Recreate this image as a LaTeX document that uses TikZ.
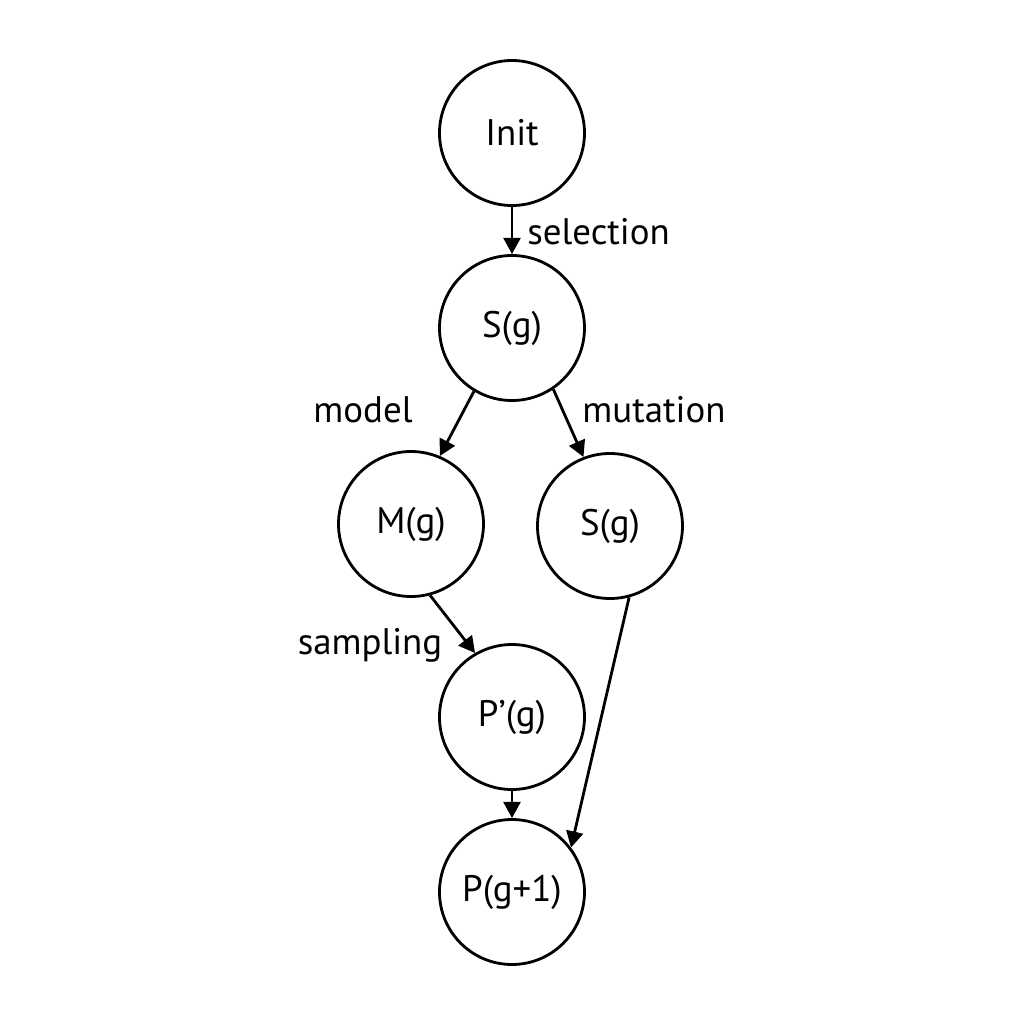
\documentclass[tikz,border=0pt]{standalone}
\usepackage{fontspec}
\setmainfont{PT Sans}
\usetikzlibrary{arrows.meta}

\begin{document}
\begin{tikzpicture}[font=\fontsize{10.5}{12}\selectfont,
  st/.style={draw,circle,line width=0.8pt,minimum size=1.45cm,inner sep=0pt},
  ar/.style={-{Triangle[length=4.6pt,width=4.8pt]},line width=0.8pt}]
\useasboundingbox (-5.12,-5.12) rectangle (5.12,5.12);
\node[st] (init) at (0,3.79) {Init};
\node[st] (sel) at (0,1.84) {S(g)};
\node[st] (mod) at (-1.01,-0.12) {M(g)};
\node[st] (mut) at (0.98,-0.14) {S(g)};
\node[st] (smp) at (0,-2.05) {P’(g)};
\node[st] (nxt) at (0,-3.80) {P(g+1)};
\draw[ar] (init) -- (sel);
\draw[ar] (sel.-121) -- (mod.67);
\draw[ar] (sel.-56) -- (mut.111);
\draw[ar] (mod.-75) -- (smp.120);
\draw[ar] (smp) -- (nxt);
\draw[ar] (mut.-75) -- (nxt.37);
% edge labels
\node[anchor=west] (lsel) at (0.03,2.80) {selection};
\node (lmod) at (-1.49,1.02) {model};
\node (lmut) at (1.42,1.02) {mutation};
\node (lsmp) at (-1.42,-1.33) {sampling};
\end{tikzpicture}
\end{document}
